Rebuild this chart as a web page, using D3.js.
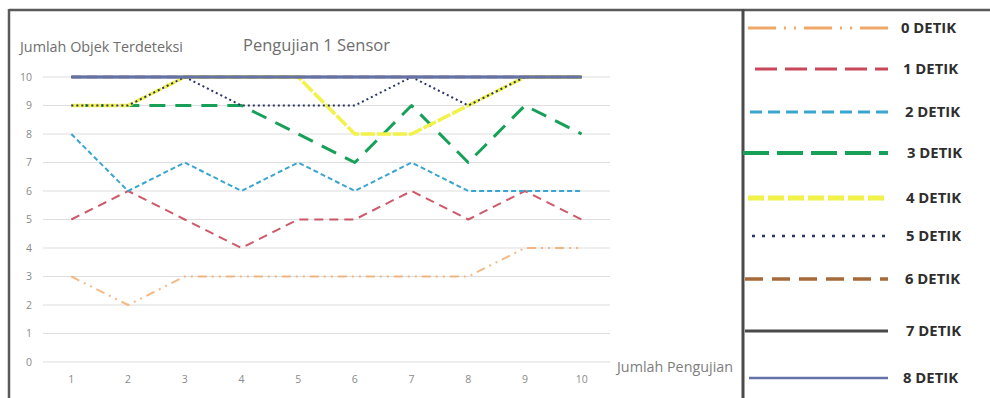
<!DOCTYPE html>
<html>
<head>
<meta charset="utf-8">
<script src="https://cdn.jsdelivr.net/npm/d3@7/dist/d3.min.js"></script>
<style>
  html, body { margin: 0; padding: 0; background: #fff; }
  svg { display: block; }
</style>
</head>
<body>
<svg id="chart" width="990" height="398"></svg>
<script>
// Jumlah objek terdeteksi per pengujian, satu seri per waktu tunda
const categories = [1, 2, 3, 4, 5, 6, 7, 8, 9, 10];
const seriesNames = ["0 DETIK", "1 DETIK", "2 DETIK", "3 DETIK", "4 DETIK", "5 DETIK", "6 DETIK", "7 DETIK", "8 DETIK"];
const detik0 = [3, 2, 3, 3, 3, 3, 3, 3, 4, 4];
const detik1 = [5, 6, 5, 4, 5, 5, 6, 5, 6, 5];
const detik2 = [8, 6, 7, 6, 7, 6, 7, 6, 6, 6];
const detik3 = [9, 9, 9, 9, 8, 7, 9, 7, 9, 8];
const detik4 = [9, 9, 10, 10, 10, 8, 8, 9, 10, 10];
const detik5 = [9, 9, 10, 9, 9, 9, 10, 9, 10, 10];
const detik6 = [10, 10, 10, 10, 10, 10, 10, 10, 10, 10];
const detik7 = [10, 10, 10, 10, 10, 10, 10, 10, 10, 10];
const detik8 = [10, 10, 10, 10, 10, 10, 10, 10, 10, 10];
const yTicks = [0, 1, 2, 3, 4, 5, 6, 7, 8, 9, 10];

const seriesValues = [detik0, detik1, detik2, detik3, detik4, detik5, detik6, detik7, detik8];

// Line styling per series (chart line, legend line)
const styles = [
  { color: "#f0a868", width: 2,   dash: "9,5,2,5,2,5", lw: 3, ldash: "28,8,2,8,2,8", op: 0.8 },
  { color: "#c8475a", width: 2,   dash: "9,6",         lw: 3.2, ldash: "22,8", op: 0.9 },
  { color: "#3aa6cf", width: 2,   dash: "5,3",         lw: 3.2, ldash: "12,6", op: 1 },
  { color: "#17a058", width: 3,   dash: "16,10",       lw: 4, ldash: "26,8,0,0", op: 1 },
  { color: "#f2f24a", width: 3.5, dash: "14,2",        lw: 5, ldash: "16,4", op: 1 },
  { color: "#2a3566", width: 2,   dash: "2,3",         lw: 2.5, ldash: "3,7", op: 1 },
  { color: "#a66a3a", width: 2.5, dash: "10,6",        lw: 3.5, ldash: "18,9", op: 1 },
  { color: "#4a4a4a", width: 2.5, dash: null,          lw: 3, ldash: null, op: 1 },
  { color: "#6472a8", width: 3,   dash: null,          lw: 2.5, ldash: null, op: 1 }
];

const svg = d3.select("#chart");
const txtFont = "'Open Sans', 'Liberation Sans', sans-serif";

// Plot area
const x = d3.scaleBand().domain(categories).range([43, 610]);
const y = d3.scaleLinear().domain([0, 10]).range([362, 77]);

// Horizontal gridlines
svg.append("g").selectAll("line").data(yTicks).join("line")
  .attr("x1", 43).attr("x2", 610)
  .attr("y1", d => y(d)).attr("y2", d => y(d))
  .attr("stroke", "#dedede").attr("stroke-width", 1.2);

// Y axis tick labels
const yAxis = d3.axisLeft(y).tickValues(yTicks).tickSize(0).tickPadding(0);
svg.append("g").attr("transform", "translate(32,0)").call(yAxis)
  .call(g => g.select(".domain").remove())
  .call(g => g.selectAll("text")
    .attr("fill", "#8a8a8a").attr("font-family", txtFont)
    .attr("font-size", 10.5));

// X axis tick labels
const xAxis = d3.axisBottom(x).tickSize(0).tickPadding(0);
svg.append("g").attr("transform", "translate(0,376)").call(xAxis)
  .call(g => g.select(".domain").remove())
  .call(g => g.selectAll("text")
    .attr("fill", "#8a8a8a").attr("font-family", txtFont)
    .attr("font-size", 10.5));

// Series lines (drawn in order so the 8-detik line ends on top)
const line = d3.line()
  .x((d, i) => x(categories[i]) + x.bandwidth() / 2)
  .y(d => y(d));

svg.append("g").selectAll("path").data(seriesValues).join("path")
  .attr("d", d => line(d))
  .attr("fill", "none")
  .attr("stroke", (d, i) => styles[i].color)
  .attr("stroke-width", (d, i) => styles[i].width)
  .attr("stroke-opacity", (d, i) => styles[i].op)
  .attr("stroke-dasharray", (d, i) => styles[i].dash)
  .attr("stroke-linejoin", "round");

// Titles
svg.append("text").attr("x", 20).attr("y", 52)
  .attr("font-family", txtFont).attr("font-size", 15).attr("fill", "#6e6e6e")
  .attr("textLength", 163).attr("lengthAdjust", "spacingAndGlyphs")
  .text("Jumlah Objek Terdeteksi");
svg.append("text").attr("x", 243).attr("y", 51)
  .attr("font-family", txtFont).attr("font-size", 17).attr("fill", "#6e6e6e")
  .attr("textLength", 147).attr("lengthAdjust", "spacingAndGlyphs")
  .text("Pengujian 1 Sensor");
svg.append("text").attr("x", 617).attr("y", 372)
  .attr("font-family", txtFont).attr("font-size", 15).attr("fill", "#7e7e7e")
  .attr("textLength", 116).attr("lengthAdjust", "spacingAndGlyphs")
  .text("Jumlah Pengujian");

// Frame
svg.append("line").attr("x1", 9).attr("x2", 990).attr("y1", 10).attr("y2", 10)
  .attr("stroke", "#5a5a5a").attr("stroke-width", 2.5);
svg.append("line").attr("x1", 9).attr("x2", 9).attr("y1", 9).attr("y2", 398)
  .attr("stroke", "#5a5a5a").attr("stroke-width", 2.5);
svg.append("line").attr("x1", 743).attr("x2", 743).attr("y1", 9).attr("y2", 398)
  .attr("stroke", "#4a4a4a").attr("stroke-width", 3);

// Legend
const legendY = [28, 69, 112, 153, 198, 236, 279, 331, 378];
const legendX1 = [748, 755, 750, 743, 748, 752, 745, 745, 749];
const legendTx = [901, 903, 905, 907, 906, 906, 905, 906, 903];
const legend = svg.append("g").selectAll("g").data(seriesNames).join("g");
legend.append("line")
  .attr("x1", (d, i) => legendX1[i]).attr("x2", 888)
  .attr("y1", (d, i) => legendY[i]).attr("y2", (d, i) => legendY[i])
  .attr("stroke", (d, i) => styles[i].color)
  .attr("stroke-width", (d, i) => styles[i].lw)
  .attr("stroke-dasharray", (d, i) => styles[i].ldash);
legend.append("text")
  .attr("x", (d, i) => legendTx[i]).attr("y", (d, i) => legendY[i] + 5)
  .attr("font-family", txtFont)
  .attr("font-weight", "bold").attr("font-size", 13.5).attr("fill", "#2e2e2e")
  .attr("textLength", 55).attr("lengthAdjust", "spacingAndGlyphs")
  .text(d => d);
</script>
</body>
</html>
